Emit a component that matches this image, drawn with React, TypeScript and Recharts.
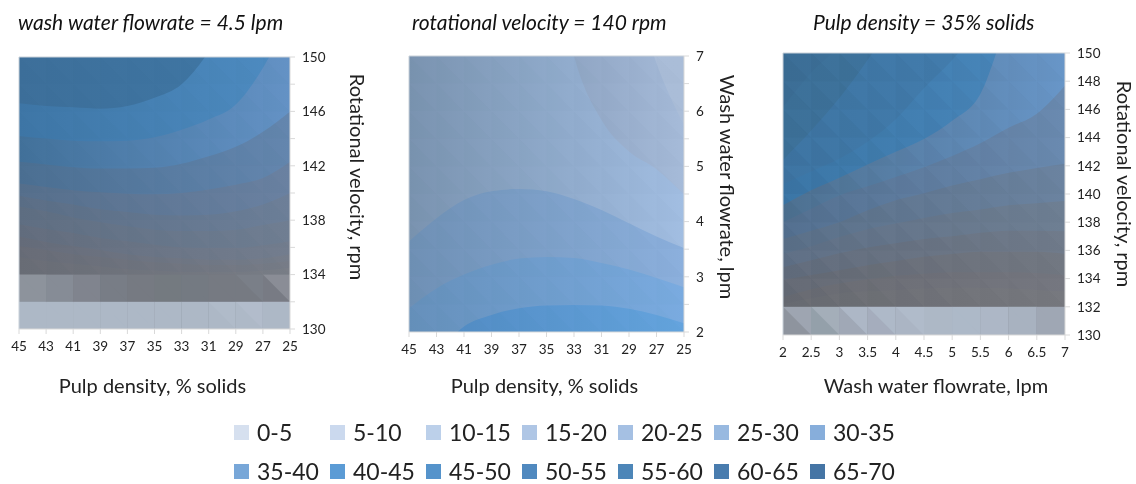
import React from 'react';
import { AreaChart, Area, XAxis, YAxis, ReferenceArea, ReferenceLine } from 'recharts';

// tick lists
const pulpTicks = [45, 43, 41, 39, 37, 35, 33, 31, 29, 27, 25];
const flowTicks = [2, 2.5, 3, 3.5, 4, 4.5, 5, 5.5, 6, 6.5, 7];
const rpmTicks = [130, 132, 134, 136, 138, 140, 142, 144, 146, 148, 150];
const flowYTicks = [2, 2.5, 3, 3.5, 4, 4.5, 5, 5.5, 6, 6.5, 7];

const legendNames = ['0-5', '5-10', '10-15', '15-20', '20-25', '25-30', '30-35', '35-40', '40-45', '45-50', '50-55', '55-60', '60-65', '65-70'];
const legendColors = ['#d6e0ef', '#cbd9ee', '#bcd0ea', '#afc6e5', '#a5c0e3', '#98b9e0', '#87aedb', '#78a7d8', '#5b9bd5', '#5593cb', '#5089bf', '#4d86b8', '#497cae', '#4575a5'];

// left panel: contour heights (rpm) at each pulp density tick, top to bottom
const p1Contours = [
  [150, 150, 150, 150, 150, 150, 150, 150, 150, 150, 150],
  [146.6, 146.4, 146.3, 146.2, 146.4, 147, 148, 150.4, 154, 158, 160],
  [144.2, 144, 143.85, 143.8, 143.85, 144.1, 144.65, 145.4, 146.5, 149.2, 153],
  [142.3, 142.1, 141.9, 141.8, 141.8, 141.85, 142.15, 142.7, 143.4, 144.5, 146],
  [140.7, 140.45, 140.2, 140.05, 139.95, 139.9, 140, 140.25, 140.6, 141.1, 142.3],
  [139.8, 139.45, 139.15, 138.8, 138.6, 138.4, 138.35, 138.4, 138.65, 139.15, 140],
  [139, 138.65, 138.2, 137.85, 137.55, 137.3, 137.2, 137.2, 137.3, 137.65, 138],
  [137.7, 137.35, 137.05, 136.7, 136.45, 136.2, 136, 135.95, 135.95, 136.15, 136.45],
  [136.8, 136.4, 136.1, 135.8, 135.5, 135.3, 135.2, 135.1, 135.1, 135.2, 135.5],
  [136.1, 135.8, 135.5, 135.3, 135.1, 134.9, 134.8, 134.7, 134.7, 134.8, 135],
  [135.3, 135, 134.8, 134.6, 134.4, 134.3, 134.2, 134.2, 134.2, 134.3, 134.5],
];
const p1Left = ['#3d6f9a', '#3e76a6', '#42719a', '#4b6f92', '#566f8c', '#5b6e86', '#5f6e82', '#636d7e', '#666c7a', '#686c77', '#6a6d76'];
const p1Right = ['#4078a6', '#4e8cc2', '#6492c5', '#6486ae', '#6a81a1', '#6d7f98', '#707e92', '#737d8e', '#767d8a', '#777c87', '#7a7e87'];
const p1Row134 = ['#8d939c', '#868c96', '#80848e', '#787d86', '#767a82', '#747a80', '#747a82', '#767a82', '#7a7f88', '#8a8d96'];
const p1Row134Lower = ['#8d939c', '#868c96', '#80848e', '#787d86', '#767a82', '#747a80', '#747a82', '#767a82', '#767a82', '#787b84'];
const p1Row130 = ['#adb8c6', '#adb8c6', '#adb8c6', '#adb8c6', '#adb8c6', '#adb8c6', '#adb8c6', '#b0bbc9', '#b2bccb', '#adb8c6'];
const p1Row130Lower = ['#adb8c6', '#adb8c6', '#adb8c6', '#adb8c6', '#adb8c6', '#adb8c6', '#adb8c6', '#adb8c6', '#aeb9c7', '#adb8c6'];

// middle panel: contour heights (lpm) at each pulp density tick
const p2Contours = [
  [7, 7, 7, 7, 7, 7, 7, 7, 7, 7, 7],
  [12, 12, 12, 12, 12, 12, 11, 10, 8.5, 6.87, 5.75],
  [11, 11, 11, 11, 10.5, 9.5, 7, 5.84, 5.27, 4.95, 4.49],
  [3.64, 4.06, 4.39, 4.55, 4.59, 4.55, 4.41, 4.21, 3.97, 3.73, 3.52],
  [2.43, 2.79, 3.04, 3.22, 3.33, 3.36, 3.34, 3.25, 3.13, 2.98, 2.81],
  [1.2, 1.6, 2.1, 2.31, 2.43, 2.48, 2.49, 2.48, 2.42, 2.31, 2.16],
];
const p2Left = ['#a8bbd4', '#6f86a5', '#7a93b0', '#6f90b5', '#6690bb', '#4f88c0'];
const p2Right = ['#aabdd8', '#a6bbd9', '#a2bee2', '#8cb0dd', '#7aabe0', '#65a4de'];

// right panel: contour heights (rpm) at each flowrate tick
const p3Contours = [
  [150, 150, 150, 150, 150, 150, 150, 150, 150, 150, 150],
  [146.15, 148.6, 150.5, 153, 155, 157, 159, 160, 160, 160, 160],
  [142.4, 144.5, 146.8, 149.5, 152.5, 155, 157, 159, 160, 160, 160],
  [140.7, 141.6, 142.5, 143.7, 145.3, 147.5, 149.5, 152, 156, 158, 160],
  [139.2, 140.26, 141.16, 142.1, 143, 143.9, 145.2, 147.1, 152.5, 157, 160],
  [138, 138.96, 139.9, 140.55, 141.2, 141.9, 142.7, 143.6, 144.7, 145.7, 147.7],
  [136.8, 137.4, 138, 138.85, 139.55, 140.05, 140.6, 141.05, 141.5, 141.85, 142.15],
  [135.75, 136.3, 136.95, 137.5, 137.9, 138.3, 138.65, 138.9, 139.2, 139.35, 139.5],
  [134.8, 135.3, 135.8, 136.2, 136.5, 136.8, 137, 137.25, 137.4, 137.4, 137.35],
  [133.9, 134.25, 134.6, 134.95, 135.25, 135.55, 135.75, 135.9, 135.9, 135.9, 135.75],
  [132.7, 133.25, 133.65, 133.95, 134.2, 134.35, 134.45, 134.45, 134.45, 134.4, 134.25],
  [132.2, 132.6, 132.95, 133.1, 133.2, 133.3, 133.35, 133.35, 133.3, 133.2, 133.1],
];
const p3Left = ['#3c6e96', '#3d7199', '#3e75a3', '#3b76a6', '#4d7090', '#547090', '#5b7088', '#607086', '#636d7d', '#666b76', '#696b72', '#6b6d73'];
const p3Right = ['#4076a3', '#4076a3', '#4580b2', '#4b8abf', '#6896c8', '#6a8ab0', '#6b83a0', '#6e7f93', '#707b8b', '#727882', '#757780', '#77797f'];
const p3RowLower = ['#8e949e', '#94a0aa', '#a0a8b6', '#a5adbd', '#abb5c4', '#adb8c6', '#adb9c8', '#adb7c6', '#a8b2c0', '#9fa7b4'];
const p3RowUpper = ['#9ea5b1', '#a4aeb9', '#adb7c6', '#aeb9c8', '#b0bbca', '#adb8c6', '#adb9c8', '#adb7c6', '#a8b2c0', '#9fa7b4'];

// how dark the lower-left triangle of each mesh cell looks, per column
const p1Facets = [0.012, 0.012, 0.012, 0.012, 0.01, 0.01, 0.01, 0.01, 0.01, 0.01];
const p2Facets = [0.01, 0.01, 0.01, 0.01, 0.01, 0.01, 0.01, 0.01, 0.01, 0.01];
const p3Facets = [0.045, 0.045, 0.04, 0.035, 0.03, 0.03, 0.025, 0.025, 0.02, 0.02];

const FONT = 'Lato, sans-serif';
const TEXT = '#222';
const AXIS = '#d9d9d9';

const lowerTriangle = (props: any) => {
  const { x, y, width, height, fill, fillOpacity } = props;
  return <path d={`M${x},${y}L${x + width},${y + height}L${x},${y + height}Z`} fill={fill} fillOpacity={fillOpacity} />;
};

type PanelProps = {
  id: string; box: number[]; xTicks: number[]; yTicks: number[]; yLabels: number[];
  reversed?: boolean; contours: number[][]; left: string[]; right: string[];
  facets: number[]; facetFrom: number; xTitle: string; yTitle: string; xDx: number; xDy: number; yDx: number; yDy: number;
  cells?: { y1: number; y2: number; colors: string[]; tri?: boolean }[];
};

const Panel: React.FC<PanelProps> = ({ id, box, xTicks, yTicks, yLabels, reversed, contours, left, right, facets, facetFrom, xTitle, yTitle, xDx, xDy, yDx, yDy, cells }) => {
  const [l, r, t, b] = box;
  const rows = xTicks.map((x, i) => {
    const row: any = { x };
    contours.forEach((c, k) => { row['c' + k] = c[i]; });
    return row;
  });
  const xDomain = [Math.min(...xTicks), Math.max(...xTicks)];
  const yDomain = [yTicks[0], yTicks[yTicks.length - 1]];
  return (
    <div style={{ position: 'absolute', left: l - 10, top: 0 }}>
      <AreaChart width={r - l + 10 + 75 + 15} height={b + 70} data={rows} margin={{ top: t, right: 15, bottom: 0, left: 10 }}>
        <defs>
          {left.map((c, k) => (
            <linearGradient key={k} id={`${id}g${k}`} x1="0" y1="0" x2="1" y2="0">
              <stop offset="0" stopColor={c} />
              <stop offset="1" stopColor={right[k]} />
            </linearGradient>
          ))}
        </defs>
        <XAxis dataKey="x" type="number" domain={xDomain} ticks={xTicks} reversed={reversed} interval={0} height={70}
          stroke={AXIS} tickSize={5} tickMargin={7} tick={{ fill: TEXT, fontSize: 13.5, fontFamily: FONT }}
          label={{ value: xTitle, position: 'center', dx: xDx, dy: xDy, fill: TEXT, fontSize: 20, fontFamily: FONT }} />
        <YAxis orientation="right" type="number" domain={yDomain} ticks={yTicks} interval={0} allowDataOverflow width={75}
          stroke={AXIS} tickSize={5} tickMargin={7} tick={{ fill: TEXT, fontSize: 13.5, fontFamily: FONT }}
          tickFormatter={(v: number) => (yLabels.includes(v) ? String(v) : '')}
          label={{ value: yTitle, angle: 90, position: 'center', dx: yDx, dy: yDy, fill: TEXT, fontSize: 20, fontFamily: FONT }} />
        {contours.map((_, k) => (
          <Area key={k} dataKey={'c' + k} type="monotone" stroke="none" fill={`url(#${id}g${k})`} fillOpacity={1} isAnimationActive={false} dot={false} activeDot={false} />
        ))}
        {(cells || []).flatMap((row, n) => row.colors.map((c, i) => (
          <ReferenceArea key={`cell${n}-${i}`} x1={xTicks[i]} x2={xTicks[i + 1]} y1={row.y1} y2={row.y2} fill={c} fillOpacity={1} stroke="none"
            shape={row.tri ? lowerTriangle : undefined} />
        )))}
        {yTicks.slice(0, -1).flatMap((y, j) => (y < facetFrom ? [] : facets.map((o, i) => (
          <ReferenceArea key={`f${j}-${i}`} x1={xTicks[i]} x2={xTicks[i + 1]} y1={y} y2={yTicks[j + 1]} fill="#1c2c3c" fillOpacity={o} stroke="none" shape={lowerTriangle} />
        ))))}
        <ReferenceLine x={xTicks[0]} stroke="#c9d1d9" />
        <ReferenceLine y={yDomain[1]} stroke="#c9d1d9" />
      </AreaChart>
    </div>
  );
};

const titleStyle: React.CSSProperties = { position: 'absolute', top: 11, fontFamily: FONT, fontStyle: 'italic', fontSize: 21, color: '#111', whiteSpace: 'nowrap', lineHeight: '22px' };

export default function App() {
  const legendX = [234, 330, 426, 522, 618, 714, 810];
  return (
    <div style={{ position: 'absolute', left: 0, top: 0, width: 1136, height: 484, background: '#fff', overflow: 'hidden', filter: 'blur(0.4px)' }}>
      <div style={{ ...titleStyle, left: 18 }}>wash water flowrate = 4.5 lpm</div>
      <div style={{ ...titleStyle, left: 412 }}>rotational velocity = 140 rpm</div>
      <div style={{ ...titleStyle, left: 813 }}>Pulp density = 35% solids</div>

      <Panel id="a" box={[19, 290, 57, 329]} xTicks={pulpTicks} yTicks={rpmTicks} yLabels={[130, 134, 138, 142, 146, 150]} reversed
        contours={p1Contours} left={p1Left} right={p1Right} facets={p1Facets} facetFrom={134}
        xTitle="Pulp density, % solids" yTitle="Rotational velocity, rpm" xDx={-2} xDy={22} yDx={30} yDy={-16}
        cells={[{ y1: 132, y2: 134, colors: p1Row134 }, { y1: 132, y2: 134, colors: p1Row134Lower, tri: true }, { y1: 130, y2: 132, colors: p1Row130 }, { y1: 130, y2: 132, colors: p1Row130Lower, tri: true }]} />
      <Panel id="b" box={[409, 684, 56, 332]} xTicks={pulpTicks} yTicks={flowYTicks} yLabels={[2, 3, 4, 5, 6, 7]} reversed
        contours={p2Contours} left={p2Left} right={p2Right} facets={p2Facets} facetFrom={2}
        xTitle="Pulp density, % solids" yTitle="Wash water flowrate, lpm" xDx={-2} xDy={19} yDx={6} yDy={-7}
        />
      <Panel id="c" box={[783, 1065, 53, 335]} xTicks={flowTicks} yTicks={rpmTicks} yLabels={rpmTicks}
        contours={p3Contours} left={p3Left} right={p3Right} facets={p3Facets} facetFrom={132}
        xTitle="Wash water flowrate, lpm" yTitle="Rotational velocity, rpm" xDx={12} xDy={16} yDx={22} yDy={-10}
        cells={[{ y1: 130, y2: 132, colors: p3RowUpper }, { y1: 130, y2: 132, colors: p3RowLower, tri: true }]} />

      {legendNames.map((name, i) => {
        const col = i % 7;
        const top = i < 7 ? 420 : 459;
        return (
          <div key={name} style={{ position: 'absolute', left: legendX[col], top, height: 24, display: 'flex', alignItems: 'center', fontFamily: FONT, fontSize: 23, color: TEXT }}>
            <span style={{ width: 15, height: 15, background: legendColors[i], marginRight: 8 }} />
            {name}
          </div>
        );
      })}
    </div>
  );
}
